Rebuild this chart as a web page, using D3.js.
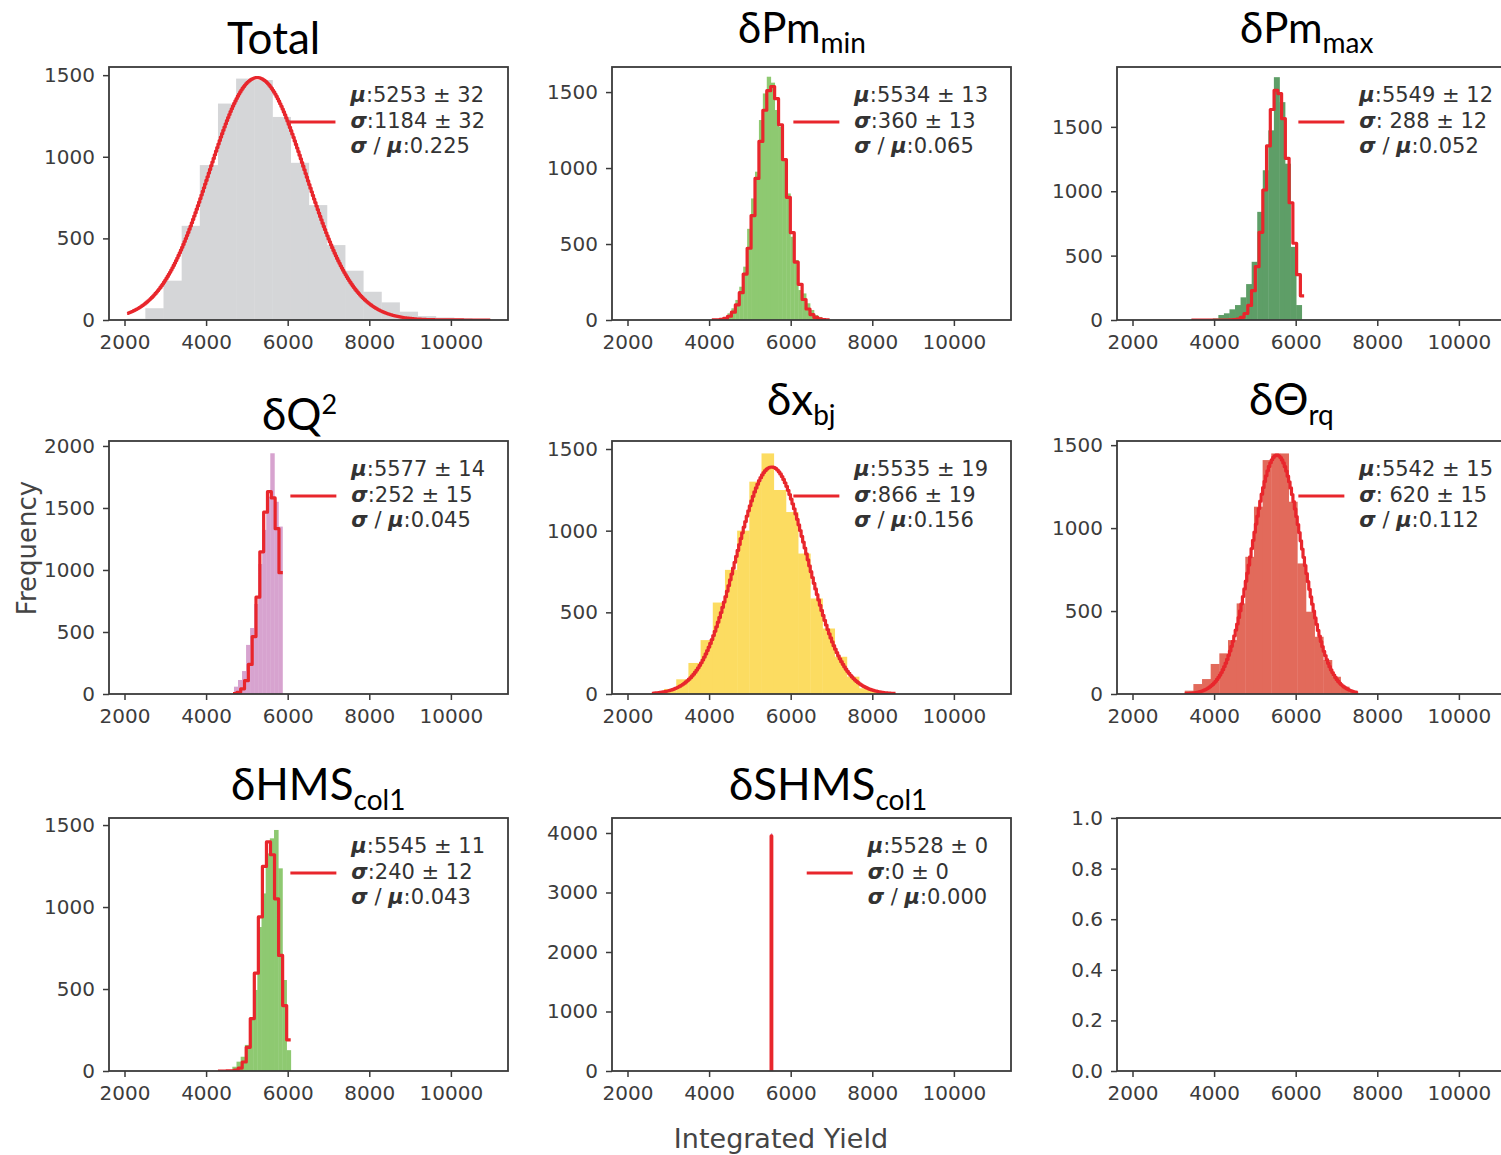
<!DOCTYPE html>
<html><head><meta charset="utf-8">
<script src="https://cdn.jsdelivr.net/npm/d3@7"></script>
<style>body{margin:0;background:#fff;} svg{display:block;}</style>
</head><body>
<svg id="c" width="1501" height="1155"></svg>
<script>
// ---------------- DATA ----------------
const xTicks = [2000, 4000, 6000, 8000, 10000];
const xDomain = [1620, 11400];
const yMax = [1550, 1665, 1965, 2040, 1549, 1525, 1543, 4252, 1];
const yTickSets = [
  [0, 500, 1000, 1500], [0, 500, 1000, 1500], [0, 500, 1000, 1500],
  [0, 500, 1000, 1500, 2000], [0, 500, 1000, 1500], [0, 500, 1000, 1500],
  [0, 500, 1000, 1500], [0, 1000, 2000, 3000, 4000], [0, 0.2, 0.4, 0.6, 0.8, 1.0]
];
const titleMain = ["Total", "δPm", "δPm", "δQ", "δx", "δΘ", "δHMS", "δSHMS", ""];
const titleSub  = ["", "min", "max", "", "bj", "rq", "col1", "col1", ""];
const titleSup  = ["", "", "", "2", "", "", "", "", ""];

// histogram counts per variation (range = [first edge, last edge])
const totalRange = [2066, 10965];
const totalCounts = [8, 72, 241, 577, 949, 1326, 1479, 1470, 1244, 963, 704, 459, 302, 173, 108, 51, 24, 15, 10, 5];
const pmMinRange = [4066, 6954];
const pmMinCounts = [5, 5, 10, 15, 44, 77, 132, 219, 351, 600, 800, 976, 1316, 1491, 1601, 1562, 1382, 1272, 1053, 833, 548, 395, 197, 175, 110, 66, 33, 20, 5, 3];
const pmMaxRange = [3424, 6146];
const pmMaxCounts = [3, 3, 5, 8, 12, 39, 52, 83, 116, 176, 279, 452, 840, 1163, 1473, 1886, 1692, 1214, 568, 116];
const q2Range = [4683, 5870];
const q2Counts = [59, 113, 185, 396, 532, 726, 1048, 1323, 1591, 1941, 1550, 1350];
const xbjRange = [2597, 8570];
const xbjCounts = [10, 31, 90, 190, 330, 560, 760, 1000, 1300, 1473, 1249, 1114, 860, 585, 401, 228, 106, 35, 14, 5];
const thetaRange = [3280, 7523];
const thetaCounts = [20, 60, 90, 181, 245, 325, 546, 827, 1129, 1410, 1450, 1450, 1159, 787, 496, 345, 205, 104, 44, 14];
const hmsRange = [4643, 6074];
const hmsCounts = [26, 57, 87, 159, 311, 494, 878, 1083, 1327, 1419, 1470, 1236, 555, 127];
const shmsRange = [5520, 5536];
const shmsCounts = [4000];

// Gaussian fit parameters (fit curve drawn as a fine step histogram)
const fitMu    = [5253, 5534, 5549, 5577, 5535, 5542, 5545, 5528];
const fitSigma = [1184, 360, 288, 252, 866, 620, 240, 0];
const fitAmp   = [1485, 1540, 1796, 1640, 1390, 1440, 1400, 3950];
const fitRange = [[2066, 10965], [4066, 6954], [3444, 6207], [4660, 5880], [2597, 8570], [3280, 7523], [4290, 6074], [5520, 5536]];
const fitSteps = [300, 30, 30, 13, 160, 120, 18, 1];

// legend texts
const legendMu    = ["5253 ± 32", "5534 ± 13", "5549 ± 12", "5577 ± 14", "5535 ± 19", "5542 ± 15", "5545 ± 11", "5528 ± 0"];
const legendSigma = ["1184 ± 32", "360 ± 13", " 288 ± 12", "252 ± 15", "866 ± 19", " 620 ± 15", "240 ± 12", "0 ± 0"];
const legendRatio = ["0.225", "0.065", "0.052", "0.045", "0.156", "0.112", "0.043", "0.000"];

// ---------------- STYLE / LAYOUT ----------------
const histRanges = [totalRange, pmMinRange, pmMaxRange, q2Range, xbjRange, thetaRange, hmsRange, shmsRange];
const histCounts = [totalCounts, pmMinCounts, pmMaxCounts, q2Counts, xbjCounts, thetaCounts, hmsCounts, shmsCounts];
const histColors = ["#d5d6d8", "#8ec971", "#5e9e67", "#d7a3cf", "#fcdc61", "#e26a5b", "#8ec971", "#d7a3cf"];
const colLeft = [109, 612, 1117], rowTop = [67, 441, 818], pw = 399, ph = 253;
const titlePos = [[227, 54], [738, 43], [1240, 43], [262, 430], [767, 415], [1249, 415], [231, 800], [729, 800], [0, 0]];
const titleSize = [44, 42, 42, 44, 44, 44, 44, 44, 44];
const fitColor = "#e8262c";
const axisColor = "#3a3a3a";
const labelColor = "#3c3c3c";

const svg = d3.select("#c");
const defs = svg.append("defs");

for (let i = 0; i < 9; i++) {
  const col = i % 3, row = Math.floor(i / 3);
  const left = colLeft[col], top = rowTop[row];
  const x = d3.scaleLinear().domain(xDomain).range([left, left + pw]);
  const y = d3.scaleLinear().domain([0, yMax[i]]).range([top + ph, top]);
  const g = svg.append("g");

  defs.append("clipPath").attr("id", "clip" + i)
    .append("rect").attr("x", left).attr("y", top).attr("width", pw).attr("height", ph);
  const plot = g.append("g").attr("clip-path", `url(#clip${i})`);

  if (i < 8) {
    const [a, b] = histRanges[i], counts = histCounts[i], w = (b - a) / counts.length;
    plot.selectAll("rect.bar").data(counts).join("rect")
      .attr("class", "bar")
      .attr("x", (c, j) => x(a + j * w))
      .attr("width", (c, j) => Math.max(1, x(a + (j + 1) * w) - x(a + j * w) + 0.4))
      .attr("y", c => y(c))
      .attr("height", c => y(0) - y(c))
      .attr("fill", histColors[i]);

    // fit curve
    const [fa, fb] = fitRange[i], n = fitSteps[i], fw = (fb - fa) / n;
    const pts = [];
    let last = 0;
    for (let j = 0; j < n; j++) {
      const c = fa + (j + 0.5) * fw;
      const v = fitSigma[i] > 0 ? fitAmp[i] * Math.exp(-0.5 * Math.pow((c - fitMu[i]) / fitSigma[i], 2)) : fitAmp[i];
      pts.push([fa + j * fw, v]);
      last = v;
    }
    pts.push([fb, last]);
    let ptsDraw = pts, curve = d3.curveStepAfter;
    if (fitSigma[i] === 0) { ptsDraw = [[fa, 0], [fa, fitAmp[i]], [fb, fitAmp[i]], [fb, 0]]; curve = d3.curveLinear; }
    const line = d3.line().x(d => x(d[0])).y(d => y(d[1])).curve(curve);
    plot.append("path").attr("d", line(ptsDraw))
      .attr("fill", "none").attr("stroke", fitColor).attr("stroke-width", 3.2)
      .attr("stroke-linejoin", "round");
  }

  // axes
  const xa = g.append("g").attr("transform", `translate(0,${top + ph})`)
    .call(d3.axisBottom(x).tickValues(xTicks).tickSize(6).tickPadding(9).tickFormat(d3.format("d")));
  const ya = g.append("g").attr("transform", `translate(${left},0)`)
    .call(d3.axisLeft(y).tickValues(yTickSets[i]).tickSize(6).tickPadding(8)
      .tickFormat(i === 8 ? d3.format(".1f") : d3.format("d")));
  [xa, ya].forEach(ax => {
    ax.select(".domain").remove();
    ax.selectAll(".tick line").attr("stroke", axisColor).attr("stroke-width", 1.5);
    ax.selectAll(".tick text").attr("fill", labelColor)
      .style("font-family", "'DejaVu Sans', sans-serif").style("font-size", "20px");
  });

  // frame
  g.append("rect").attr("x", left).attr("y", top).attr("width", pw).attr("height", ph)
    .attr("fill", "none").attr("stroke", axisColor).attr("stroke-width", 1.8);

  // legend
  if (i < 8) {
    const lg = g.append("g").style("font-family", "'DejaVu Sans', sans-serif").style("font-size", "21px").attr("fill", "#333");
    const rows = [
      [["μ", true], [":" + legendMu[i], false]],
      [["σ", true], [":" + legendSigma[i], false]],
      [["σ", true], [" / ", false], ["μ", true], [":" + legendRatio[i], false]]
    ];
    const offs = [35, 61, 86];
    const texts = rows.map((r, k) => {
      const t = lg.append("text").attr("x", 0).attr("y", top + offs[k]).attr("xml:space", "preserve");
      r.forEach(([s, b]) => {
        const ts = t.append("tspan").text(s);
        if (b) ts.attr("font-weight", "bold").attr("font-style", "italic");
      });
      return t;
    });
    const maxW = d3.max(texts, t => t.node().getComputedTextLength());
    const tx = left + 376 - maxW;
    texts.forEach(t => t.attr("x", tx));
    lg.append("line").attr("x1", tx - 61).attr("x2", tx - 15)
      .attr("y1", top + 55).attr("y2", top + 55)
      .attr("stroke", fitColor).attr("stroke-width", 3.2);
  }

  // title
  if (titleMain[i]) {
    const t = svg.append("text").attr("x", titlePos[i][0]).attr("y", titlePos[i][1])
      .style("font-family", "Lato, 'Open Sans', sans-serif").style("font-size", titleSize[i] + "px").attr("fill", "#000");
    t.append("tspan").text(titleMain[i]);
    if (titleSup[i]) t.append("tspan").attr("dy", -16).style("font-size", "27px").text(titleSup[i]);
    if (titleSub[i]) t.append("tspan").attr("dy", 10).style("font-size", "28px").text(titleSub[i]);
  }
}

// axis labels
svg.append("text").attr("transform", "translate(36,548) rotate(-90)")
  .attr("text-anchor", "middle").attr("fill", "#444")
  .style("font-family", "'DejaVu Sans', sans-serif").style("font-size", "26px").text("Frequency");
svg.append("text").attr("x", 781).attr("y", 1148)
  .attr("text-anchor", "middle").attr("fill", "#444")
  .style("font-family", "'DejaVu Sans', sans-serif").style("font-size", "27px").text("Integrated Yield");
</script>
</body></html>
